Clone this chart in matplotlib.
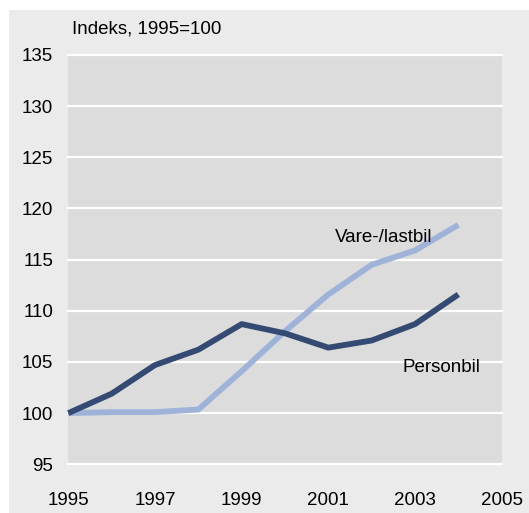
import matplotlib.pyplot as plt
from matplotlib.patches import Rectangle

plt.rcParams['font.family'] = ['Liberation Sans Narrow', 'Liberation Sans', 'DejaVu Sans']

years = [1995, 1996, 1997, 1998, 1999, 2000, 2001, 2002, 2003, 2004]
personbil = [100.0, 101.9, 104.7, 106.2, 108.7, 107.8, 106.4, 107.1, 108.7, 111.6]
vare_lastbil = [100.0, 100.1, 100.1, 100.35, 104.1, 108.0, 111.6, 114.5, 115.9, 118.4]

xticks = [1995, 1997, 1999, 2001, 2003, 2005]
yticks = [95, 100, 105, 110, 115, 120, 125, 130, 135]

W, H = 529, 513
fs = 13.5
fig = plt.figure(figsize=(W / 100, H / 100), dpi=100)
fig.patch.set_facecolor('white')
fig.patches.append(Rectangle((9 / W, 0), 1 - 9 / W, 1 - 10 / H, transform=fig.transFigure,
                             facecolor='#ebebeb', edgecolor='none', zorder=-5))

ax = fig.add_axes([68.3 / W, 1 - 464.3 / H, (501.7 - 68.3) / W, (464.3 - 55) / H])
ax.set_zorder(1)
ax.set_facecolor('#dcdcdc')
ax.set_xlim(1995, 2005)
ax.set_ylim(95, 135)

for y in yticks:
    ax.axhline(y, color='white', lw=1.6, zorder=1, clip_on=False)

ax.plot(years, personbil, color='#344a72', lw=4.2, zorder=3, solid_capstyle='butt', clip_on=False)
ax.plot(years, vare_lastbil, color='#9fb3d9', lw=4.2, zorder=2, solid_capstyle='butt', clip_on=False)

for s in ax.spines.values():
    s.set_visible(False)
ax.set_xticks(xticks)
ax.set_yticks(yticks)
ax.tick_params(length=0, labelsize=fs, colors='black')
ax.tick_params(axis='y', pad=11)
ax.tick_params(axis='x', pad=20)

ax.text(2003.4, 117.2, 'Vare-/lastbil', fontsize=fs, ha='right', va='center')
ax.text(2004.5, 104.5, 'Personbil', fontsize=fs, ha='right', va='center')
fig.text(72 / W, 1 - 29 / H, 'Indeks, 1995=100', fontsize=fs, ha='left', va='center')

fig.savefig('out.png', dpi=100, facecolor=fig.get_facecolor())
